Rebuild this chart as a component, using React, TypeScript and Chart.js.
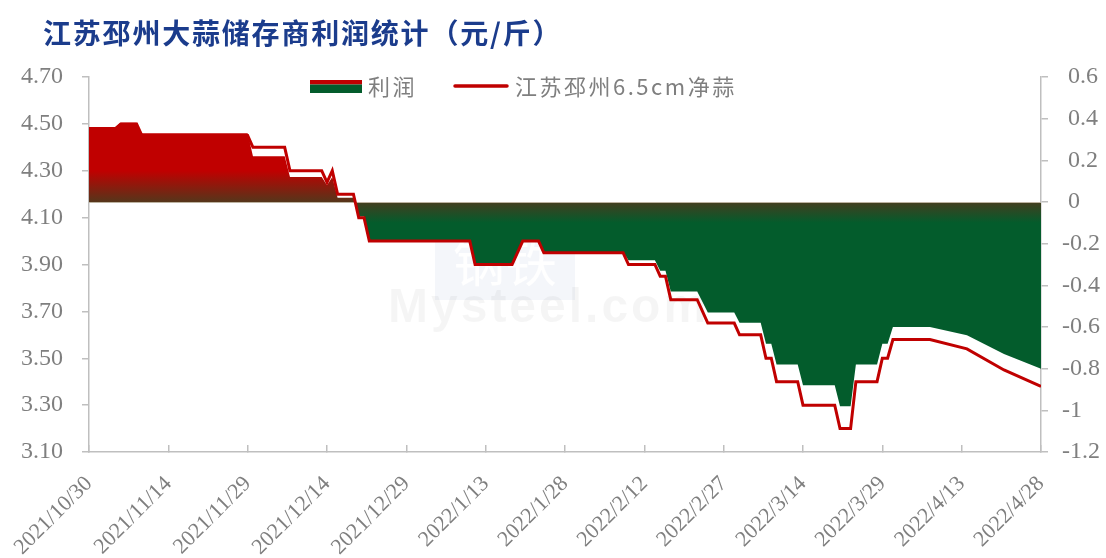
import React, { useEffect, useRef } from 'react';
import { Chart, registerables } from 'chart.js';

Chart.register(...registerables);

const TITLE = '江苏邳州大蒜储存商利润统计（元/斤）';
const SERIES_NAMES = ['利润', '江苏邳州6.5cm净蒜'];

const START_DATE = '2021/10/30';
const END_DATE = '2022/4/28';
const TICK_STEP_DAYS = 15;

const LEFT_MIN = 3.1;
const LEFT_MAX = 4.7;
const LEFT_STEP = 0.2;
const RIGHT_MIN = -1.2;
const RIGHT_MAX = 0.6;
const RIGHT_STEP = 0.2;

const dates = [
  '2021/10/30', '2021/11/4', '2021/11/5', '2021/11/8', '2021/11/9', '2021/11/29', '2021/11/30',
  '2021/12/6', '2021/12/7', '2021/12/13', '2021/12/14', '2021/12/15', '2021/12/16', '2021/12/19',
  '2021/12/20', '2021/12/21', '2021/12/22', '2022/1/10', '2022/1/11', '2022/1/18', '2022/1/20',
  '2022/1/23', '2022/1/24', '2022/2/8', '2022/2/9', '2022/2/14', '2022/2/15', '2022/2/16',
  '2022/2/17', '2022/2/22', '2022/2/24', '2022/3/1', '2022/3/2', '2022/3/6', '2022/3/7',
  '2022/3/8', '2022/3/9', '2022/3/13', '2022/3/14', '2022/3/20', '2022/3/21', '2022/3/23',
  '2022/3/24', '2022/3/28', '2022/3/29', '2022/3/30', '2022/3/31', '2022/4/7', '2022/4/14',
  '2022/4/21', '2022/4/28',
];

const priceValues = [
  4.48, 4.48, 4.50, 4.50, 4.45, 4.45, 4.40,
  4.40, 4.30, 4.30, 4.25, 4.30, 4.20, 4.20,
  4.10, 4.10, 4.00, 4.00, 3.90, 3.90, 4.00,
  4.00, 3.95, 3.95, 3.90, 3.90, 3.85, 3.85,
  3.75, 3.75, 3.65, 3.65, 3.60, 3.60, 3.50,
  3.50, 3.40, 3.40, 3.30, 3.30, 3.20, 3.20,
  3.40, 3.40, 3.50, 3.50, 3.58, 3.58, 3.54,
  3.45, 3.38,
];

const profitValues = [
  0.36, 0.36, 0.38, 0.38, 0.33, 0.33, 0.22,
  0.22, 0.12, 0.12, 0.08, 0.12, 0.02, 0.02,
  -0.07, -0.07, -0.19, -0.19, -0.30, -0.30, -0.19,
  -0.19, -0.24, -0.24, -0.28, -0.28, -0.33, -0.33,
  -0.43, -0.43, -0.53, -0.53, -0.58, -0.58, -0.68,
  -0.68, -0.78, -0.78, -0.88, -0.88, -0.98, -0.98,
  -0.78, -0.78, -0.68, -0.68, -0.60, -0.60, -0.64,
  -0.73, -0.80,
];

const RED = '#C00000';
const GREEN = '#035C2C';
const AXIS = '#BFBFBF';
const TEXT = '#7F7F7F';
const TITLE_COLOR = '#1B3C8C';
const DAY_MS = 86400000;

function parseDate(s: string): number {
  const [y, m, d] = s.split('/').map(Number);
  return Date.UTC(y, m - 1, d);
}
const BASE = parseDate(START_DATE);
const TOTAL_DAYS = Math.round((parseDate(END_DATE) - BASE) / DAY_MS);

function toDay(s: string): number {
  return Math.round((parseDate(s) - BASE) / DAY_MS);
}
function dayToLabel(n: number): string {
  const dt = new Date(BASE + Math.round(n) * DAY_MS);
  return `${dt.getUTCFullYear()}/${dt.getUTCMonth() + 1}/${dt.getUTCDate()}`;
}

const zeroLinePlugin = {
  id: 'zeroLine',
  afterDatasetDraw(chart: any, args: any) {
    if (args.index !== 1) return;
    const { ctx, chartArea, scales } = chart;
    const y = Math.round(scales.y2.getPixelForValue(0)) + 0.5;
    ctx.save();
    ctx.strokeStyle = '#BDB3A1';
    ctx.lineWidth = 1.2;
    ctx.beginPath();
    ctx.moveTo(chartArea.left, y);
    ctx.lineTo(chartArea.right, y);
    ctx.stroke();
    ctx.restore();
  },
};

const watermarkPlugin = {
  id: 'watermark',
  beforeDatasetsDraw(chart: any) {
    const c = chart.ctx;
    c.save();
    c.fillStyle = 'rgba(215,222,238,0.28)';
    c.fillRect(435, 218, 140, 82);
    c.fillStyle = 'rgba(255,255,255,0.95)';
    c.font = '52px "Noto Sans CJK SC"';
    c.textBaseline = 'middle';
    c.fillText('钢铁', 453, 262);
    c.fillStyle = 'rgba(0,0,0,0.04)';
    c.font = 'bold 48px Arial, "Liberation Sans"';
    c.textBaseline = 'alphabetic';
    (c as any).letterSpacing = '3px';
    c.fillText('Mysteel.com', 388, 322);
    c.restore();
  },
};

const legendPlugin = {
  id: 'customLegend',
  afterDraw(chart: any) {
    const c = chart.ctx;
    c.save();
    c.fillStyle = RED;
    c.fillRect(310, 80, 52, 4.5);
    c.fillStyle = GREEN;
    c.fillRect(310, 84.5, 52, 8.5);
    c.fillStyle = TEXT;
    c.font = '22px "Noto Sans CJK SC"';
    c.textBaseline = 'middle';
    (c as any).letterSpacing = '2.5px';
    c.fillText(SERIES_NAMES[0], 368, 87);
    c.strokeStyle = RED;
    c.lineWidth = 3.5;
    c.lineCap = 'round';
    c.beginPath();
    c.moveTo(455, 86);
    c.lineTo(507, 86);
    c.stroke();
    c.fillText(SERIES_NAMES[1], 515, 87);
    c.restore();
  },
};

export default function App() {
  const ref = useRef<HTMLCanvasElement>(null);

  useEffect(() => {
    document.body.style.margin = '0';
    const canvas = ref.current;
    if (!canvas) return;

    const priceData = dates.map((d, i) => ({ x: toDay(d), y: priceValues[i] }));
    const profitData = dates.map((d, i) => ({ x: toDay(d), y: profitValues[i] }));

    const chart = new Chart(canvas, {
      type: 'line',
      data: {
        datasets: [
          {
            label: SERIES_NAMES[1],
            data: priceData,
            yAxisID: 'y',
            borderColor: RED,
            borderWidth: 3,
            pointRadius: 0,
            tension: 0,
            fill: false,
            order: 0,
          },
          {
            label: SERIES_NAMES[0],
            data: profitData,
            yAxisID: 'y2',
            borderWidth: 0,
            borderColor: 'rgba(0,0,0,0)',
            pointRadius: 0,
            tension: 0,
            fill: 'origin',
            order: 1,
            backgroundColor: (ctx: any) => {
              const ch = ctx.chart;
              const s = ch.scales && ch.scales.y2;
              if (!ch.chartArea || !s) return GREEN;
              const top = s.getPixelForValue(0.15);
              const bot = s.getPixelForValue(-0.1);
              const g = ch.ctx.createLinearGradient(0, top, 0, bot);
              g.addColorStop(0, RED);
              g.addColorStop(0.59, '#57351A');
              g.addColorStop(0.61, '#433E1F');
              g.addColorStop(1, GREEN);
              return g;
            },
          },
        ],
      },
      options: {
        responsive: false,
        animation: false,
        devicePixelRatio: 1,
        events: [],
        layout: { padding: { top: 77, left: 0, right: 0, bottom: 0 } },
        plugins: {
          legend: { display: false },
          title: { display: false },
          tooltip: { enabled: false },
        },
        scales: {
          x: {
            type: 'linear',
            position: 'bottom',
            min: 0,
            max: TOTAL_DAYS,
            ticks: {
              stepSize: TICK_STEP_DAYS,
              autoSkip: false,
              minRotation: 45,
              maxRotation: 45,
              color: TEXT,
              padding: 26,
              font: { family: '"Liberation Serif"', size: 22 },
              callback: (v: any) => dayToLabel(Number(v)),
            },
            grid: {
              drawOnChartArea: false,
              drawTicks: true,
              tickLength: -7,
              color: AXIS,
              lineWidth: 1.5,
            },
            border: { display: true, color: AXIS, width: 1.5 },
            afterFit: (s: any) => {
              s.height = 106;
              s.paddingLeft = 0;
              s.paddingRight = 0;
            },
          },
          y: {
            type: 'linear',
            position: 'left',
            min: LEFT_MIN,
            max: LEFT_MAX,
            ticks: {
              stepSize: LEFT_STEP,
              color: TEXT,
              padding: 19,
              font: { family: '"Liberation Serif"', size: 24 },
              callback: (v: any) => Number(v).toFixed(2),
            },
            grid: { drawOnChartArea: false, tickLength: 7, color: AXIS, lineWidth: 1.5 },
            border: { display: true, color: AXIS, width: 1.5 },
            afterFit: (s: any) => {
              s.width = 89;
              s.paddingTop = 0;
              s.paddingBottom = 0;
            },
          },
          y2: {
            type: 'linear',
            position: 'right',
            min: RIGHT_MIN,
            max: RIGHT_MAX,
            ticks: {
              stepSize: RIGHT_STEP,
              color: TEXT,
              padding: 14,
              font: { family: '"Liberation Serif"', size: 24 },
              callback: (v: any) => {
                const r = Math.round(Number(v) * 10) / 10;
                return r >= 0 ? ' ' + String(r) : String(r);
              },
            },
            grid: { drawOnChartArea: false, tickLength: 7, color: AXIS, lineWidth: 1.5 },
            border: { display: true, color: AXIS, width: 1.5 },
            afterFit: (s: any) => {
              s.width = 65;
              s.paddingTop = 0;
              s.paddingBottom = 0;
            },
          },
        },
      },
      plugins: [watermarkPlugin, zeroLinePlugin, legendPlugin],
    } as any);

    return () => chart.destroy();
  }, []);

  return (
    <div style={{ position: 'relative', width: 1106, height: 558, overflow: 'hidden', background: '#fff' }}>
      <canvas ref={ref} width={1106} height={558} style={{ display: 'block', width: 1106, height: 558 }} />
      <div
        style={{
          position: 'absolute',
          left: 43,
          top: 18,
          fontFamily: '"Noto Sans CJK SC"',
          fontWeight: 700,
          fontSize: 28,
          lineHeight: 1,
          letterSpacing: 1.8,
          color: TITLE_COLOR,
          whiteSpace: 'nowrap',
        }}
      >
        {TITLE}
      </div>
    </div>
  );
}
